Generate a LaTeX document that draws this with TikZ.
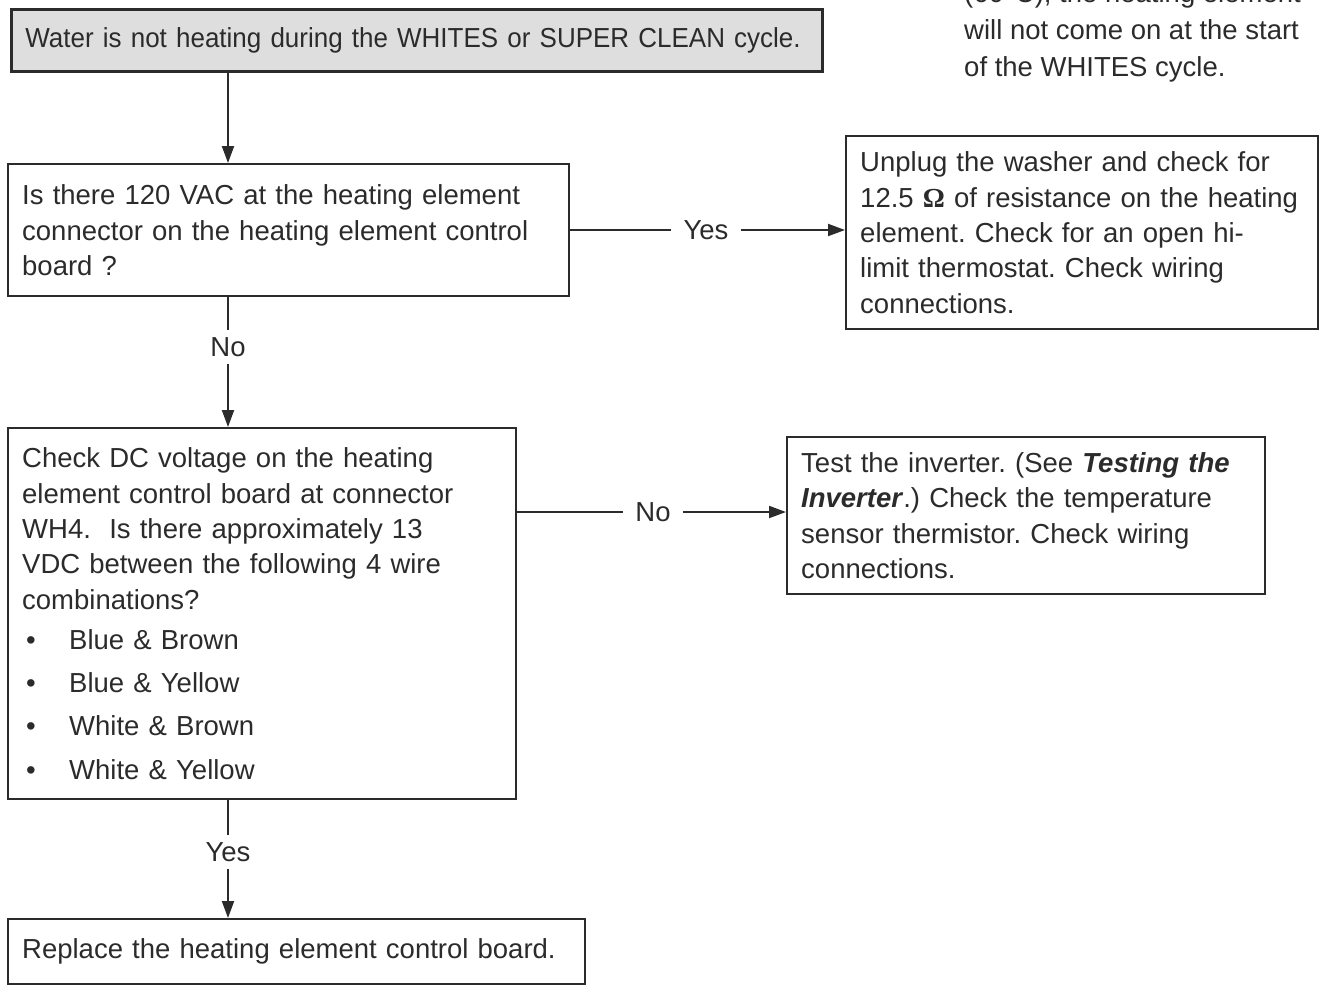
\documentclass[tikz,border=0pt]{standalone}
\usepackage{fontspec}
\setmainfont{Liberation Sans}
\newfontfamily\omegafont{Liberation Serif}
\newfontfamily\narrowfont[FakeStretch=0.945]{Liberation Sans}
\usetikzlibrary{arrows.meta}
\definecolor{ink}{HTML}{2B2B2B}
\definecolor{boxgray}{HTML}{DEDEDE}
\frenchspacing
\begin{document}
\begin{tikzpicture}[x=1pt,y=-1pt,
  box/.style={draw=ink, line width=2.4pt, anchor=north west, align=left,
    inner xsep=14pt, inner ysep=0pt, font=\fontsize{27.5}{35.3}\selectfont, text=ink},
  conn/.style={draw=ink, line width=2pt},
  arr/.style={conn, -{Triangle[length=17pt,width=12pt]}},
  lbl/.style={font=\fontsize{27.5}{33}\selectfont, text=ink, inner xsep=12pt, inner ysep=7pt},
  note/.style={font=\fontsize{27.5}{33}\selectfont, text=ink, inner sep=0pt, anchor=base west}]
\useasboundingbox (0,0) rectangle (1321,986);
\clip (0,0) rectangle (1321,986);

% side note (partly cut off at the top)
\node[note] (n1) at (964,2) {(60°C), the heating element};
\node[note] (n2) at (964,39) {will not come on at the start};
\node[note] (n3) at (964,76) {of the WHITES cycle.};

% boxes
\node[box, fill=boxgray, line width=2.8pt, text width=783pt, minimum width=811pt, minimum height=62pt, font=\narrowfont\fontsize{27.5}{35.3}\selectfont] (b1) at (10,8)
  {\mbox{Water is not heating during the WHITES or SUPER CLEAN cycle.}};
\node[box, text width=533pt, minimum width=561pt, minimum height=132pt] (b2) at (7,163)
  {Is there 120 VAC at the heating element\\connector on the heating element control\\board ?};
\node[box, text width=444pt, minimum width=472pt, minimum height=193pt] (b3) at (845,135)
  {Unplug the washer and check for\\12.5 {\omegafont\bfseries Ω} of resistance on the heating\\element. Check for an open hi-\\limit thermostat. Check wiring\\connections.};
\node[box, text width=480pt, minimum width=508pt, minimum height=371pt] (b4) at (7,427)
  {Check DC voltage on the heating\\element control board at connector\\WH4.~ Is there approximately 13\\VDC between the following 4 wire\\combinations?\\[5pt]
   \hspace*{4pt}\makebox[43pt][l]{•}Blue \& Brown\\[8pt]
   \hspace*{4pt}\makebox[43pt][l]{•}Blue \& Yellow\\[8pt]
   \hspace*{4pt}\makebox[43pt][l]{•}White \& Brown\\[8pt]
   \hspace*{4pt}\makebox[43pt][l]{•}White \& Yellow};
\node[box, text width=450pt, minimum width=478pt, minimum height=157pt] (b5) at (786,436)
  {Test the inverter. (See \textbf{\textit{Testing the}}\\\textbf{\textit{Inverter}}.) Check the temperature\\sensor thermistor. Check wiring\\connections.};
\node[box, text width=549pt, minimum width=577pt, minimum height=65pt] (b6) at (7,918)
  {Replace the heating element control board.};

% connectors
\coordinate (cx) at (228,0);
\draw[arr] (b1.south -| cx) -- (b2.north -| cx);

\node[lbl] (yes1) at (706,230) {Yes};
\draw[conn] (b2.east |- yes1) -- (yes1.west);
\draw[arr] (yes1.east) -- (b3.west |- yes1);

\node[lbl] (no1) at (228,347) {No};
\draw[conn] (b2.south -| cx) -- (no1.north);
\draw[arr] (no1.south) -- (b4.north -| cx);

\node[lbl] (no2) at (653,512) {No};
\draw[conn] (b4.east |- no2) -- (no2.west);
\draw[arr] (no2.east) -- (b5.west |- no2);

\node[lbl] (yes2) at (228,852) {Yes};
\draw[conn] (b4.south -| cx) -- (yes2.north);
\draw[arr] (yes2.south) -- (b6.north -| cx);
\end{tikzpicture}
\end{document}
